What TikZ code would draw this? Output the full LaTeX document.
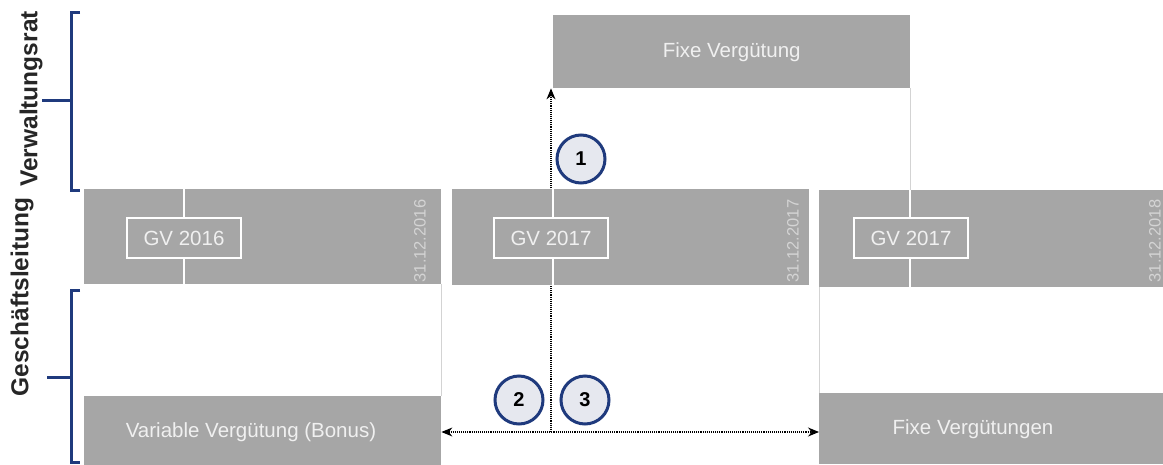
\documentclass[tikz,border=0pt]{standalone}
\usepackage{fontspec}
\setmainfont{Liberation Sans}
\usetikzlibrary{arrows.meta,backgrounds}
\definecolor{barg}{HTML}{A6A6A6}
\definecolor{navy}{HTML}{1F3A7D}
\definecolor{ringfill}{HTML}{E6E8EF}
\definecolor{datec}{HTML}{D4D4D4}
\definecolor{guidec}{HTML}{D3D3D3}

\begin{document}
\begin{tikzpicture}[x=1pt,y=-1pt,>={Stealth[length=11pt,width=9pt]},
    box/.style={fill=barg,anchor=north west,inner sep=0pt,text=white!94!black,font=\fontsize{20.5}{24}\selectfont},
    boxtext/.style={inner sep=0pt,text=white!94!black,font=\fontsize{20.5}{24}\selectfont},
    gv/.style={draw=white,line width=1.5pt,fill=barg,minimum width=114pt,minimum height=40pt,inner sep=0pt,text=white!94!black,font=\fontsize{20.5}{24}\selectfont},
    date/.style={rotate=90,inner sep=0pt,text=datec,font=\fontsize{16.5}{18}\selectfont},
    num/.style={circle,draw=navy,line width=3pt,fill=ringfill,minimum size=48pt,inner sep=0pt,font=\fontsize{20}{24}\selectfont\bfseries},
    role/.style={rotate=90,inner sep=0pt,text=black!85,font=\fontsize{24.5}{28}\selectfont\bfseries},
    brace/.style={draw=navy,line width=3pt},
    guide/.style={draw=guidec,line width=0.8pt},
    divider/.style={draw=white,line width=1.5pt},
    dots/.style={densely dotted,line width=1.1pt}]

    \useasboundingbox (0,0) rectangle (1163,464);

    \node[box,minimum width=357pt,minimum height=73pt] (fixv) at (553,15) {Fixe Vergütung};
    \node[box,minimum width=357pt,minimum height=95pt] (bar16) at (84,189) {};
    \node[box,minimum width=357pt,minimum height=96pt] (bar17) at (452,189) {};
    \node[box,minimum width=350pt,minimum height=97pt] (bar18) at (819,190) {};
    \node[box,minimum width=357pt,minimum height=70pt] (varv) at (84,396) {};
    \node[box,minimum width=350pt,minimum height=71pt] (fixvs) at (819,393) {};
    \node[boxtext] (varvt) at (251,432) {Variable Vergütung (Bonus)};
    \node[boxtext] (fixvst) at (973,429) {Fixe Vergütungen};

    \draw[divider] (184,189) -- (184,284);
    \draw[divider] (553,189) -- (553,285);
    \draw[divider] (910,190) -- (910,287);

    \node[gv] (gv16) at (184,238) {GV 2016};
    \node[gv] (gv17) at (551,238) {GV 2017};
    \node[gv] (gv18) at (911,238) {GV 2017};

    \node[date] (d16) at (420,241) {31.12.2016};
    \node[date] (d17) at (793,241) {31.12.2017};
    \node[date] (d18) at (1155,241) {31.12.2018};

    \draw[guide] (varv.north east) -- (bar16.south east);
    \draw[guide] (fixvs.north west) -- (bar18.south west);
    \draw[guide] (fixv.south east) -- (fixv.south east |- bar18.north);

    \coordinate (split) at (551,432);
    \begin{scope}[on background layer]
        \draw[dots,<->] (varv.east |- split) -- (fixvs.west |- split);
        \draw[dots,->] (split) -- (split |- fixv.south);
    \end{scope}

    \node[num] (c1) at (581,159) {1};
    \node[num] (c2) at (519,400) {2};
    \node[num] (c3) at (585,400) {3};

    \node[role] (vr) at (31,99) {Verwaltungsrat};
    \node[role] (gl) at (22,297) {Geschäftsleitung};
    \draw[brace] (80,12) -- (71,12) -- (71,190) -- (80,190);
    \draw[brace] (42,100) -- (71,100);
    \draw[brace] (80,290) -- (71,290) -- (71,462) -- (80,462);
    \draw[brace] (47,377) -- (71,377);
\end{tikzpicture}
\end{document}
